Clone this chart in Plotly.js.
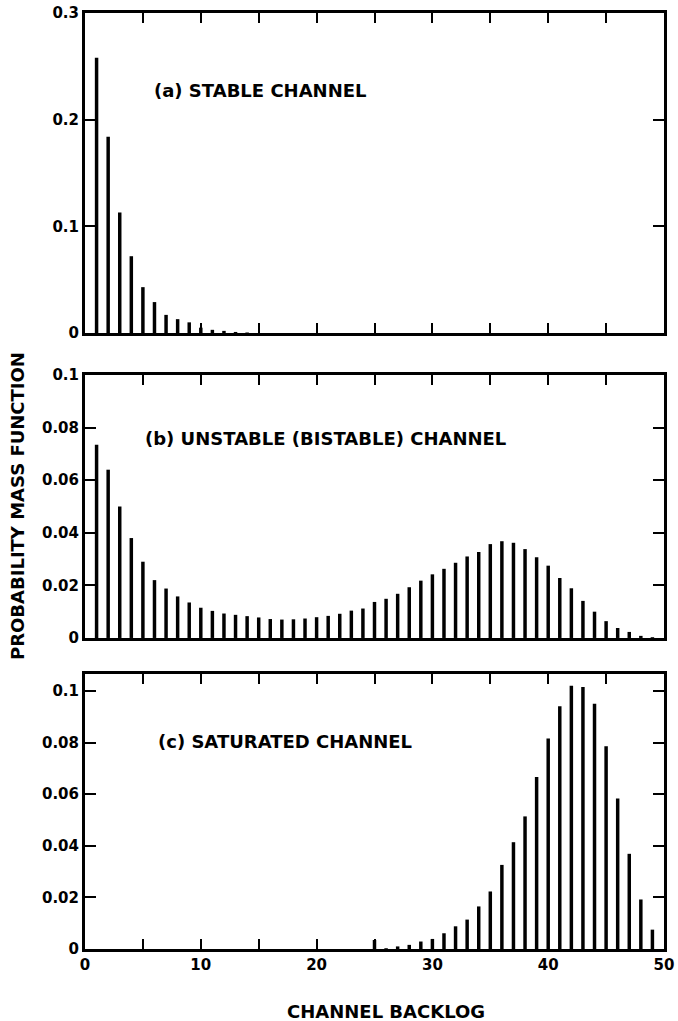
<!DOCTYPE html>
<html>
<head>
<meta charset="utf-8">
<script src="https://cdn.plot.ly/plotly-3.0.1.min.js"></script>
<style>html,body{margin:0;padding:0;background:#fff;}#chart{width:678px;height:1021px;}</style>
</head>
<body>
<div id="chart"></div>
<script>
// Channel backlog values (x)
const backlog = [];
for (let n = 1; n <= 49; n++) backlog.push(n);

// (a) stable channel PMF, n = 1..49
const stablePmf = [0.258, 0.184, 0.113, 0.072, 0.043, 0.029, 0.017, 0.013, 0.010, 0.005,
  0.003, 0.002, 0.001, 0.0005, 0, 0, 0, 0, 0, 0,
  0, 0, 0, 0, 0, 0, 0, 0, 0, 0,
  0, 0, 0, 0, 0, 0, 0, 0, 0, 0,
  0, 0, 0, 0, 0, 0, 0, 0, 0];

// (b) unstable (bistable) channel PMF, n = 1..49
const bistablePmf = [0.0735, 0.064, 0.050, 0.038, 0.029, 0.022, 0.0188, 0.0158, 0.0135, 0.0115,
  0.0103, 0.0093, 0.0088, 0.0083, 0.0078, 0.0072, 0.0070, 0.0071, 0.0074, 0.0079,
  0.0084, 0.0092, 0.0104, 0.0112, 0.0137, 0.0149, 0.0168, 0.0193, 0.0218, 0.0242,
  0.0263, 0.0286, 0.0310, 0.0327, 0.0357, 0.0368, 0.0362, 0.0338, 0.0307, 0.0275,
  0.0228, 0.0189, 0.0141, 0.0100, 0.0064, 0.0038, 0.0023, 0.0008, 0.0003];

// (c) saturated channel PMF, n = 1..49
const saturatedPmf = [0, 0, 0, 0, 0, 0, 0, 0, 0, 0,
  0, 0, 0, 0, 0, 0, 0, 0, 0, 0,
  0, 0, 0, 0, 0.0035, 0.0003, 0.0010, 0.0016, 0.0029, 0.0039,
  0.0061, 0.0088, 0.0114, 0.0165, 0.0223, 0.0326, 0.0414, 0.0514, 0.0667, 0.0816,
  0.0941, 0.1020, 0.1016, 0.0951, 0.0786, 0.0583, 0.0369, 0.0192, 0.0075];

const xTickVals = [0, 5, 10, 15, 20, 25, 30, 35, 40, 45, 50];
const xTickText = ['0', '', '10', '', '20', '', '30', '', '40', '', '50'];

const panelLabels = ['(a) STABLE CHANNEL', '(b) UNSTABLE (BISTABLE) CHANNEL', '(c) SATURATED CHANNEL'];
const yTitle = 'PROBABILITY MASS FUNCTION';
const xTitle = 'CHANNEL BACKLOG';

const fontFam = 'DejaVu Sans, Liberation Sans, Arial, sans-serif';
const tickFont = {family: fontFam, size: 15, color: '#000', weight: 'bold'};

function barTrace(y, xa, ya) {
  return {type: 'bar', x: backlog, y: y, xaxis: xa, yaxis: ya, width: 0.3,
    marker: {color: '#000', line: {width: 0}}, hoverinfo: 'x+y'};
}

const data = [
  barTrace(stablePmf, 'x', 'y'),
  barTrace(bistablePmf, 'x2', 'y2'),
  barTrace(saturatedPmf, 'x3', 'y3')
];

function xAxis(anchor, labels) {
  return {domain: [0, 1], anchor: anchor, range: [0, 50], tickmode: 'array',
    tickvals: xTickVals, ticktext: xTickText, showticklabels: labels,
    ticks: 'inside', ticklen: 10, tickwidth: 2, tickcolor: '#000',
    showline: true, linewidth: 3, linecolor: '#000', mirror: 'ticks',
    showgrid: false, zeroline: false, tickfont: tickFont};
}
function yAxis(anchor, domain, range, dtick) {
  return {domain: domain, anchor: anchor, range: range, tick0: 0, dtick: dtick,
    ticks: 'inside', ticklen: 11, tickwidth: 2, tickcolor: '#000',
    showline: true, linewidth: 3, linecolor: '#000', mirror: 'ticks',
    showgrid: false, zeroline: false, tickfont: tickFont};
}

const annFont = {family: fontFam, size: 18, color: '#000', weight: 'bold'};

const layout = {
  width: 678, height: 1021,
  margin: {l: 85, r: 14, t: 13, b: 72},
  paper_bgcolor: '#fff', plot_bgcolor: '#fff',
  showlegend: false,
  xaxis: xAxis('y', false),
  xaxis2: xAxis('y2', false),
  xaxis3: xAxis('y3', true),
  yaxis: yAxis('x', [0.6581, 1], [0, 0.3], 0.1),
  yaxis2: yAxis('x2', [0.3323, 0.6132], [0, 0.1], 0.02),
  yaxis3: yAxis('x3', [0, 0.2938], [0, 0.1066], 0.02),
  annotations: [
    {text: panelLabels[0], xref: 'paper', yref: 'paper', x: 0.1157, y: 0.9177, xanchor: 'left', yanchor: 'middle', showarrow: false, font: annFont},
    {text: panelLabels[1], xref: 'paper', yref: 'paper', x: 0.1002, y: 0.5459, xanchor: 'left', yanchor: 'middle', showarrow: false, font: annFont},
    {text: panelLabels[2], xref: 'paper', yref: 'paper', x: 0.1226, y: 0.2212, xanchor: 'left', yanchor: 'middle', showarrow: false, font: annFont},
    {text: yTitle, xref: 'paper', yref: 'paper', x: -0.1157, y: 0.4733, xanchor: 'center', yanchor: 'middle', textangle: -90, showarrow: false, font: annFont},
    {text: xTitle, xref: 'paper', yref: 'paper', x: 0.52, y: -0.0673, xanchor: 'center', yanchor: 'middle', showarrow: false, font: annFont}
  ]
};

Plotly.newPlot('chart', data, layout, {displayModeBar: false, staticPlot: true});
</script>
</body>
</html>
